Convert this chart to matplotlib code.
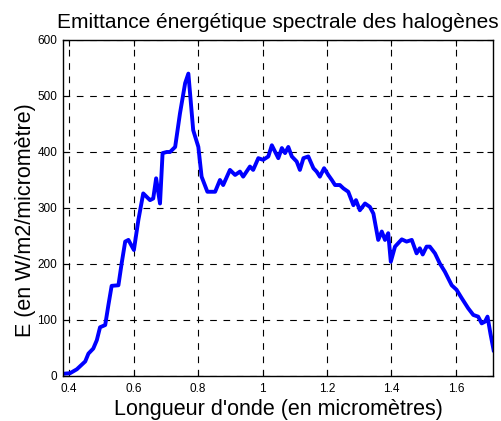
import numpy as np
import matplotlib
matplotlib.use('Agg')
import matplotlib.pyplot as plt

plt.rcParams['font.family'] = ['Liberation Sans', 'DejaVu Sans']

# wavelength (micrometres) and spectral emittance
wl = [0.382, 0.403, 0.424, 0.45, 0.46, 0.475, 0.486, 0.496, 0.512, 0.522,
      0.532, 0.553, 0.563, 0.574, 0.584, 0.601, 0.615, 0.63, 0.651, 0.661,
      0.67, 0.682, 0.69, 0.703, 0.713, 0.729, 0.744, 0.76, 0.77, 0.785,
      0.801, 0.811, 0.829, 0.853, 0.868, 0.878, 0.899, 0.915, 0.93, 0.94,
      0.961, 0.971, 0.987, 1.002, 1.018, 1.029, 1.049, 1.06, 1.07, 1.08,
      1.091, 1.106, 1.116, 1.127, 1.142, 1.158, 1.168, 1.178, 1.191, 1.204,
      1.215, 1.225, 1.24, 1.251, 1.266, 1.282, 1.29, 1.302, 1.318, 1.333,
      1.344, 1.359, 1.37, 1.38, 1.39, 1.398, 1.411, 1.432, 1.447, 1.463,
      1.478, 1.488, 1.497, 1.509, 1.519, 1.535, 1.55, 1.566, 1.587, 1.602,
      1.618, 1.638, 1.654, 1.669, 1.68, 1.69, 1.698, 1.707, 1.717]
E = [4, 5, 12, 26, 40, 49, 64, 87, 91, 127,
     161, 162, 201, 240, 243, 225, 279, 326, 314, 317,
     353, 308, 398, 400, 400, 409, 469, 523, 540, 439,
     409, 356, 329, 329, 350, 341, 368, 359, 365, 356,
     374, 368, 389, 386, 392, 412, 389, 407, 398, 409,
     392, 383, 368, 389, 392, 371, 365, 356, 371, 359,
     350, 341, 341, 335, 329, 305, 314, 296, 308, 302,
     290, 243, 258, 243, 255, 204, 231, 244, 240, 243,
     219, 228, 217, 231, 231, 219, 201, 186, 162, 154,
     139, 121, 109, 106, 94, 97, 106, 76, 46]

xticks = [0.4, 0.6, 0.8, 1.0, 1.2, 1.4, 1.6]
xticklabels = ['0.4', '0.6', '0.8', '1', '1.2', '1.4', '1.6']
yticks = [0, 100, 200, 300, 400, 500, 600]

fig = plt.figure(figsize=(5.01, 4.21), dpi=100)
ax = fig.add_axes([0.1257, 0.1069, 0.984 - 0.1257, 0.905 - 0.1069])

ax.plot(wl, E, color='#0000ff', lw=2.8)

ax.set_xlim(0.381, 1.715)
ax.set_ylim(0, 600)
ax.set_xticks(xticks)
ax.set_xticklabels(xticklabels)
ax.set_yticks(yticks)
ax.tick_params(direction='in', length=4, labelsize=8.5, width=0.8, top=True, right=True)
ax.tick_params(axis='x', pad=5)
ax.tick_params(axis='y', pad=4)
ax.grid(True, color='black', linestyle=(0, (6, 6)), linewidth=0.8)
for s in ax.spines.values():
    s.set_linewidth(1.0)

ax.set_title('Emittance énergétique spectrale des halogènes', fontsize=15, pad=8.5)
ax.set_xlabel("Longueur d'onde (en micromètres)", fontsize=15.5, labelpad=3)
ax.set_ylabel('E (en W/m2/micromètre)', fontsize=15.5)
ax.yaxis.set_label_coords(-0.062, 0.464)

fig.savefig('out.png', dpi=100)
